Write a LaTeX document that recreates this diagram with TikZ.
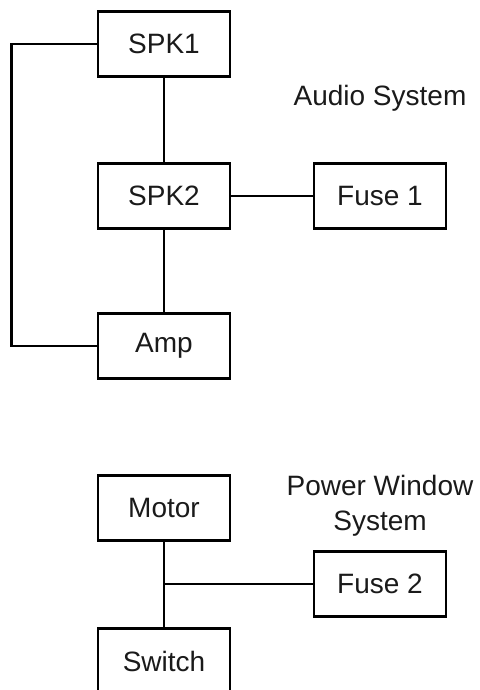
\documentclass[tikz,border=0pt]{standalone}
\usepackage{fontspec}
\setmainfont{Liberation Sans}
\usepackage{tikz}
\usetikzlibrary{positioning}
\definecolor{blackmain}{HTML}{000000}
\definecolor{textmain}{HTML}{1A1A1A}
\tikzset{every node/.append style={font=\fontsize{28}{35}\selectfont,text=textmain}}
\tikzset{part/.style={draw=blackmain,line width=2.7pt,minimum width=132pt,minimum height=65pt,inner sep=0pt},
  wire/.style={draw=blackmain,line width=2.7pt}}

\begin{document}
\begin{tikzpicture}[x=1pt,y=-1pt]
\useasboundingbox (0,0) rectangle (479,690);
% audio system
\node[part] (spk1) at (164,44) {SPK1};
\node[part] (spk2) at (164,196) {SPK2};
\node[part] (amp) at (164,346) {Amp};
\node[part] (fuse1) at (380,196) {Fuse 1};
\node (audio) at (380,98) {Audio System};
\draw[wire] (spk1)--(spk2);
\draw[wire] (spk2)--(amp);
\draw[wire] (spk2)--(fuse1);
\draw[wire] (spk1.west)--++(-85,0) |- (amp.west);
% power window system
\node[part] (motor) at (164,508) {Motor};
\node[part] (fuse2) at (380,584) {Fuse 2};
\node[part] (switch) at (164,661) {Switch};
\node[align=center] (power) at (380,506) {Power Window\\System};
\coordinate (tap) at (motor |- fuse2);
\draw[wire] (motor)--(switch);
\draw[wire] (tap)--(fuse2);
\end{tikzpicture}
\end{document}
